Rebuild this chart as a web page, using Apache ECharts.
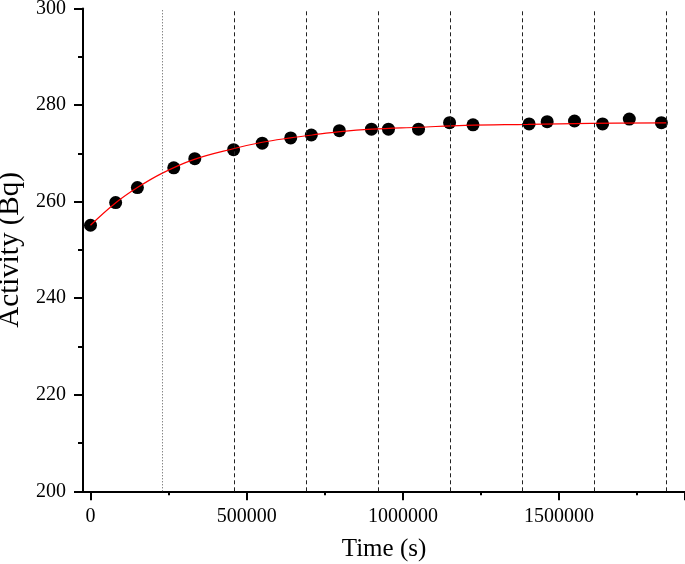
<!DOCTYPE html>
<html>
<head>
<meta charset="utf-8">
<script src="https://cdn.jsdelivr.net/npm/echarts@6/dist/echarts.min.js"></script>
<style>
  html, body { margin: 0; padding: 0; background: #fff; }
  #chart { width: 685px; height: 564px; }
</style>
</head>
<body>
<div id="chart"></div>
<script>
//  measured points: time (s) / activity (Bq)
const timeData = [0, 80500, 150100, 266500, 333800, 458000, 549700, 640800, 706900, 796600,
    899300, 953800, 1050000, 1149400, 1224400, 1404000, 1461800, 1549300, 1639100, 1724700, 1827400];
const activityData = [255.1, 259.8, 262.9, 267.0, 268.9, 270.75, 272.1, 273.2, 273.8, 274.7,
    275.0, 275.0, 275.0, 276.35, 275.9, 276.1, 276.55, 276.7, 276.1, 277.1, 276.35];

//  red fit curve
const fitTime = [0, 80000, 150000, 230000, 330000, 460000, 550000, 640000, 710000, 800000,
    900000, 1050000, 1200000, 1400000, 1600000, 1843000];
const fitActivity = [255.1, 259.7, 262.9, 265.9, 268.7, 271.0, 272.3, 273.2, 273.8, 274.5,
    275.0, 275.4, 275.8, 276.0, 276.2, 276.3];

//  vertical reference lines (the first one dotted)
const markTimes = [230400, 460800, 691200, 921600, 1152000, 1382400, 1612800, 1843200];

const FONT = 'Liberation Serif';

function pairs(xs, ys) {
    return xs.map(function (x, i) {
        return [x, ys[i]];
    });
}

const markData = markTimes.map(function (t, i) {
    return {
        xAxis: t,
        lineStyle: i === 0
            ? {color: '#555', width: 1, type: [1, 2]}
            : {color: '#222', width: 1, type: [4, 3]},
    };
});

const myChart = echarts.init(document.getElementById('chart'));
myChart.setOption({
    backgroundColor: '#fff',
    animation: false,
    grid: [
        //  data grid, starts at the y axis
        {left: 83, right: 0, top: 8.5, bottom: 72.7, containLabel: false, outerBoundsMode: 'none'},
        //  tick grid, starts at t = 0
        {left: 90.5, right: 0, top: 8.5, bottom: 72.7, containLabel: false, outerBoundsMode: 'none'},
    ],
    xAxis: [{
        type: 'value',
        gridIndex: 0,
        min: -24000,
        max: 1903000,
        name: 'Time (s)',
        nameLocation: 'middle',
        nameGap: 46,
        nameTextStyle: {fontFamily: FONT, fontSize: 25, color: '#000'},
        axisLine: {show: true, onZero: false, lineStyle: {color: '#000', width: 2}},
        axisTick: {show: false},
        axisLabel: {show: false},
        splitLine: {show: false},
    }, {
        type: 'value',
        gridIndex: 1,
        min: 0,
        max: 1903000,
        interval: 500000,
        axisLine: {show: false, onZero: false},
        axisTick: {show: true, length: 9, lineStyle: {color: '#000', width: 2}},
        minorTick: {show: true, splitNumber: 2, length: 4, lineStyle: {color: '#000', width: 2}},
        axisLabel: {
            fontFamily: FONT, fontSize: 20, color: '#000', margin: 15,
            showMaxLabel: false,
            formatter: function (v) {
                return v % 500000 === 0 ? String(v) : '';
            },
        },
        splitLine: {show: false},
    }],
    yAxis: [{
        type: 'value',
        gridIndex: 0,
        min: 200,
        max: 300,
        interval: 20,
        name: 'Activity (Bq)',
        nameLocation: 'middle',
        nameGap: 54,
        nameTextStyle: {fontFamily: FONT, fontSize: 29, color: '#000'},
        axisLine: {show: true, onZero: false, lineStyle: {color: '#000', width: 2}},
        axisTick: {show: true, length: 9, lineStyle: {color: '#000', width: 2}},
        minorTick: {show: true, splitNumber: 2, length: 5, lineStyle: {color: '#000', width: 2}},
        axisLabel: {fontFamily: FONT, fontSize: 20, color: '#000', margin: 17},
        splitLine: {show: false},
    }, {
        type: 'value',
        gridIndex: 1,
        min: 200,
        max: 300,
        show: false,
    }],
    series: [{
        type: 'scatter',
        xAxisIndex: 0,
        yAxisIndex: 0,
        symbol: 'circle',
        symbolSize: 13,
        itemStyle: {color: '#000', opacity: 1},
        data: pairs(timeData, activityData),
        z: 2,
        markLine: {
            silent: true,
            symbol: 'none',
            label: {show: false},
            data: markData,
        },
    }, {
        type: 'line',
        xAxisIndex: 0,
        yAxisIndex: 0,
        smooth: 0.4,
        showSymbol: false,
        lineStyle: {color: '#ff0000', width: 1.2},
        data: pairs(fitTime, fitActivity),
        z: 3,
    }],
});
</script>
</body>
</html>
